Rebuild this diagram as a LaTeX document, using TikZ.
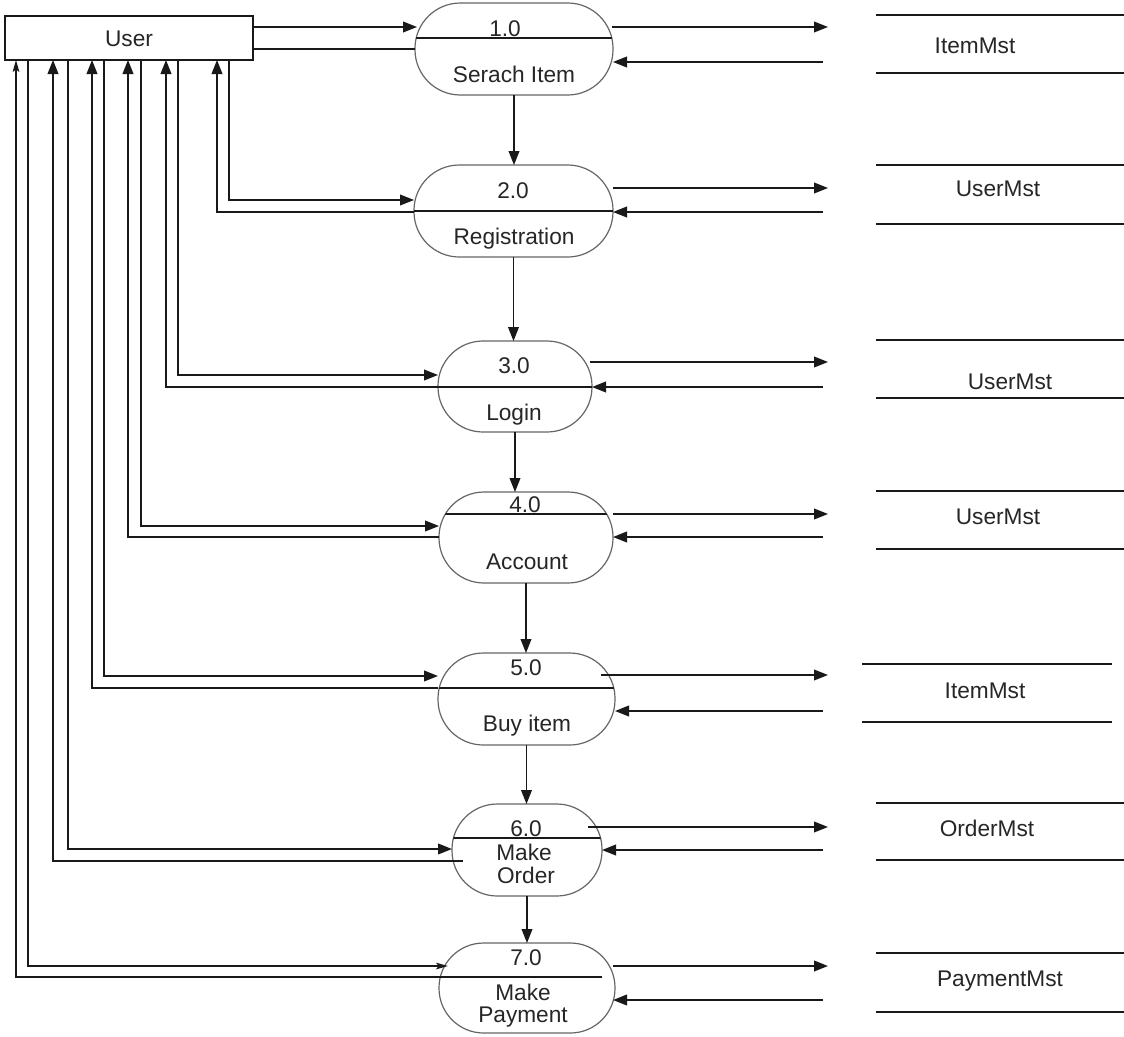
\documentclass[tikz,border=0pt]{standalone}
\usepackage{fontspec}
\setmainfont{Liberation Sans}
\usetikzlibrary{arrows.meta,calc}
\begin{document}
\begin{tikzpicture}[x=0.75pt,y=-0.75pt,
  flow/.style={line width=1.3pt,draw=black!90},
  arr/.style={flow,-{Triangle[length=10.5pt,width=8pt]}},
  thinarr/.style={flow,-{Stealth[length=9pt,width=5pt,inset=2pt]}},
  proc/.style={draw=black!60,line width=0.9pt,rectangle,inner sep=0pt,outer sep=0pt},
  txt/.style={font=\fontsize{17}{19}\selectfont,text height=12.2pt,text depth=0pt,inner sep=0pt,text=black!85},
  userbox/.style={draw=black!90,line width=1.3pt,rectangle,inner sep=0pt,outer sep=0pt,txt},
  storeline/.style={line width=1.3pt,draw=black!90}
]
\useasboundingbox[fill=white] (0,0) rectangle (1124,1036);

% ---------- external entity ----------
\node[userbox,minimum width=186pt,minimum height=33pt] (user) at (129,38) {User};

% ---------- processes ----------
\node[proc,minimum width=148.5pt,minimum height=69pt,rounded corners=34pt] (p1) at (514,49) {};
\node[proc,minimum width=149.25pt,minimum height=69pt,rounded corners=34pt] (p2) at (513.5,211) {};
\node[proc,minimum width=115.5pt,minimum height=68.25pt,rounded corners=33.8pt] (p3) at (515,386.5) {};
\node[proc,minimum width=130.5pt,minimum height=68.25pt,rounded corners=33.8pt] (p4) at (526,537.5) {};
\node[proc,minimum width=132.75pt,minimum height=69pt,rounded corners=34pt] (p5) at (526.5,699) {};
\node[proc,minimum width=112.5pt,minimum height=69pt,rounded corners=34pt] (p6) at (527,850) {};
\node[proc,minimum width=132pt,minimum height=67.5pt,rounded corners=33.5pt] (p7) at (527,988) {};

% dividers
\begin{scope}
  \clip[rounded corners=34pt] (p1.south west) rectangle (p1.north east);
  \draw[flow] (p1.west |- 0,38) -- (p1.east |- 0,38);
\end{scope}
\begin{scope}
  \clip[rounded corners=34pt] (p2.south west) rectangle (p2.north east);
  \draw[flow] (p2.west |- 0,211) -- (p2.east |- 0,211);
\end{scope}
\begin{scope}
  \clip[rounded corners=33.8pt] (p3.south west) rectangle (p3.north east);
  \draw[flow] (p3.west |- 0,387) -- (p3.east |- 0,387);
\end{scope}
\begin{scope}
  \clip[rounded corners=33.8pt] (p4.south west) rectangle (p4.north east);
  \draw[flow] (p4.west |- 0,514) -- (p4.east |- 0,514);
\end{scope}
\begin{scope}
  \clip[rounded corners=34pt] (p5.south west) rectangle (p5.north east);
  \draw[flow] (p5.west |- 0,688) -- (p5.east |- 0,688);
\end{scope}
\begin{scope}
  \clip[rounded corners=34pt] (p6.south west) rectangle (p6.north east);
  \draw[flow] (p6.west |- 0,838) -- (p6.east |- 0,838);
\end{scope}

% process labels
\node[txt] (n1) at (505,28) {1.0};
\node[txt] (l1) at (514,74) {Serach Item};
\node[txt] (n2) at (513,190) {2.0};
\node[txt] (l2) at (514,236) {Registration};
\node[txt] (n3) at (514,365) {3.0};
\node[txt] (l3) at (514,412) {Login};
\node[txt] (n4) at (525,504) {4.0};
\node[txt] (l4) at (527,561) {Account};
\node[txt] (n5) at (526,667) {5.0};
\node[txt] (l5) at (527,723) {Buy item};
\node[txt] (n6) at (526,828) {6.0};
\node[txt] (l6a) at (524,852) {Make};
\node[txt] (l6b) at (526,875) {Order};
\node[txt] (n7) at (526,957) {7.0};
\node[txt] (l7a) at (523,992) {Make};
\node[txt] (l7b) at (523,1014) {Payment};

% ---------- data stores ----------
\draw[storeline] (876,15) -- (1124,15);
\draw[storeline] (876,73) -- (1124,73);
\node[txt] (s1) at (975,45) {ItemMst};
\draw[storeline] (876,165) -- (1124,165);
\draw[storeline] (876,224) -- (1124,224);
\node[txt] (s2) at (998,188) {UserMst};
\draw[storeline] (876,340) -- (1124,340);
\draw[storeline] (876,398) -- (1124,398);
\node[txt] (s3) at (1010,381) {UserMst};
\draw[storeline] (876,491) -- (1124,491);
\draw[storeline] (876,549) -- (1124,549);
\node[txt] (s4) at (998,516) {UserMst};
\draw[storeline] (862,664) -- (1112,664);
\draw[storeline] (862,722) -- (1112,722);
\node[txt] (s5) at (985,690) {ItemMst};
\draw[storeline] (876,803) -- (1124,803);
\draw[storeline] (876,860) -- (1124,860);
\node[txt] (s6) at (987,828) {OrderMst};
\draw[storeline] (876,953) -- (1124,953);
\draw[storeline] (876,1012) -- (1124,1012);
\node[txt] (s7) at (1000,978) {PaymentMst};

% ---------- flows between processes ----------
\draw[arr] (p1.south) -- (p1.south |- p2.north);
\draw[arr] (p2.south) -- (p2.south |- p3.north);
\draw[arr] (p3.south) -- (p3.south |- p4.north);
\draw[arr] (p4.south) -- (p4.south |- p5.north);
\draw[arr] (p5.south) -- (p5.south |- p6.north);
\draw[arr] (p6.south) -- (p6.south |- p7.north);

% ---------- flows user <-> processes ----------
\draw[arr] (user.east |- 0,27) -- ($(p1.west |- 0,27)+(2,0)$);
\draw[flow] (p1.west |- 0,49) -- (user.east |- 0,49);
\draw[arr] (user.south -| 229,0) |- (p2.west |- 0,200);
\draw[arr] (p2.west |- 0,212) -| (user.south -| 217,0);
\draw[arr] (user.south -| 178,0) |- (p3.west |- 0,375);
\draw[arr] (p3.west |- 0,387) -| (user.south -| 166,0);
\draw[arr] (user.south -| 141,0) |- (p4.west |- 0,526);
\draw[arr] (p4.west |- 0,537) -| (user.south -| 128,0);
\draw[arr] (user.south -| 104,0) |- (p5.west |- 0,676);
\draw[arr] (p5.west |- 0,688) -| (user.south -| 92,0);
\draw[arr] (user.south -| 68,0) |- (p6.west |- 0,849);
\draw[arr] ($(p6.west |- 0,861)+(11,0)$) -| (user.south -| 53,0);
\draw[thinarr] (user.south -| 28,0) |- ($(p7.west |- 0,966)+(9,0)$);
\draw[thinarr] ($(p7.east |- 0,977)+(-13,0)$) -| (user.south -| 16,0);

% ---------- flows processes <-> stores ----------
\coordinate (o1) at (828,27);   \coordinate (i1) at (823,62);
\coordinate (o2) at (828,188);  \coordinate (i2) at (823,212);
\coordinate (o3) at (828,362);  \coordinate (i3) at (823,387);
\coordinate (o4) at (828,514);  \coordinate (i4) at (823,537);
\coordinate (o5) at (828,675);  \coordinate (i5) at (823,711);
\coordinate (o6) at (828,827);  \coordinate (i6) at (823,850);
\coordinate (o7) at (828,966);  \coordinate (i7) at (823,1000);

\draw[arr] ($(p1.east |- o1)+(-1,0)$) -- (o1);
\draw[arr] (i1) -- (p1.east |- i1);
\draw[arr] (p2.east |- o2) -- (o2);
\draw[arr] (i2) -- (p2.east |- i2);
\draw[arr] ($(p3.east |- o3)+(-2,0)$) -- (o3);
\draw[arr] (i3) -- (p3.east |- i3);
\draw[arr] (p4.east |- o4) -- (o4);
\draw[arr] (i4) -- (p4.east |- i4);
\draw[arr] ($(p5.east |- o5)+(-14,0)$) -- (o5);
\draw[arr] (i5) -- (p5.east |- i5);
\draw[arr] ($(p6.east |- o6)+(-14,0)$) -- (o6);
\draw[arr] (i6) -- (p6.east |- i6);
\draw[arr] ($(p7.east |- o7)+(-2,0)$) -- (o7);
\draw[arr] (i7) -- ($(p7.east |- i7)+(-2,0)$);
\end{tikzpicture}
\end{document}
